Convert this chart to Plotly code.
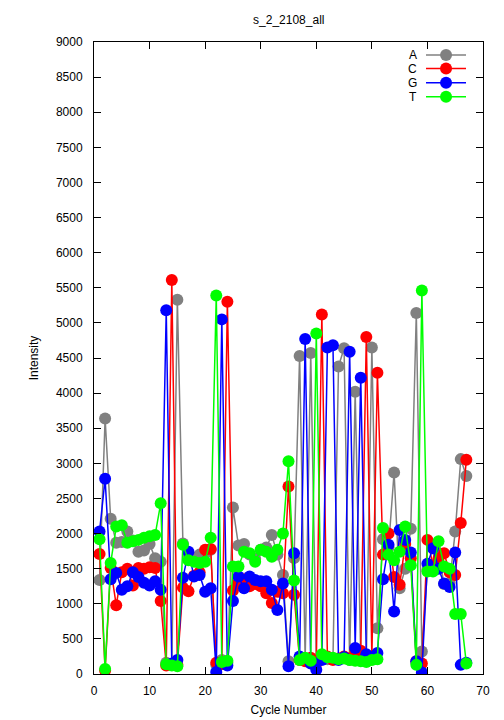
import plotly.graph_objects as go

cycles = list(range(1, 68))

series_names = ["A", "C", "G", "T"]
series_colors = ["#808080", "#ff0000", "#0000ff", "#00ff00"]

A = [1340, 3640, 2210, 1870, 1880, 2030, 1900, 1740, 1760, 1850,
     1650, 1600, 160, 130, 5330, 1860, 1700, 1650, 1700, 1720,
     1770, 130, 200, 160, 2370, 1830, 1850, 1700, 1640, 1770,
     1800, 1980, 1700, 1410, 180, 1650, 4530, 200, 4570, 180,
     230, 210, 220, 4380, 4640, 200, 4020, 250, 200, 4650,
     650, 1920, 1800, 2870, 1220, 1500, 2070, 5140, 320, 1480,
     1500, 1720, 1280, 1300, 2030, 3060, 2820]

C = [1710, 50, 1510, 980, 1450, 1500, 1260, 1510, 1500, 1520,
     1510, 1040, 120, 5610, 130, 1230, 1180, 1400, 1450, 1770,
     1780, 160, 140, 5300, 1190, 1300, 1350, 1250, 1280, 1250,
     1150, 1010, 1170, 1150, 2670, 1130, 200, 180, 230, 150,
     5120, 250, 200, 220, 250, 220, 340, 330, 4800, 250,
     4290, 1700, 2000, 1380, 1270, 1850, 1650, 180, 150, 1910,
     1550, 1650, 1720, 1450, 1410, 2150, 3050]

G = [2030, 2780, 1350, 1440, 1200, 1250, 1450, 1380, 1300, 1260,
     1320, 1200, 5180, 150, 200, 1370, 1740, 1390, 1410, 1170,
     1220, 30, 5050, 120, 1040, 1390, 1220, 1390, 1340, 1320,
     1320, 1200, 910, 1290, 110, 1720, 250, 4770, 150, 60,
     200, 4650, 4680, 200, 240, 4590, 370, 4220, 280, 240,
     300, 1350, 1840, 890, 2050, 1910, 1730, 180, 20, 1570,
     1790, 1500, 1290, 1240, 1730, 130, 160]

T = [1920, 70, 1580, 2100, 2120, 1870, 1890, 1910, 1940, 1960,
     1980, 2430, 140, 120, 110, 1840, 1620, 1600, 1580, 1600,
     1940, 5390, 170, 190, 1530, 1530, 1740, 1720, 1600, 1770,
     1740, 1670, 1770, 2000, 3030, 1330, 200, 230, 190, 4850,
     280, 240, 230, 210, 220, 200, 190, 180, 170, 200,
     210, 2080, 1700, 1620, 1740, 2100, 1550, 130, 5460, 1460,
     1460, 1890, 1530, 1500, 855, 855, 150]

x_ticks = list(range(0, 71, 10))
y_ticks = list(range(0, 9001, 500))

FONT = "Liberation Sans, Arial, Helvetica, sans-serif"

fig = go.Figure()
for name, color, vals in zip(series_names, series_colors, [A, C, G, T]):
    fig.add_trace(go.Scatter(
        x=cycles, y=vals, name=name, mode="lines+markers",
        line=dict(color=color, width=1.5),
        marker=dict(color=color, size=12, symbol="circle"),
        showlegend=False,
    ))

# gnuplot-style key: label on the left, line+point sample on the right
key_rows = [0.9794, 0.958, 0.9356, 0.9134]
for name, color, yy in zip(series_names, series_colors, key_rows):
    fig.add_annotation(x=0.834, y=yy, xref="paper", yref="paper", text=name,
                       showarrow=False, xanchor="right", yanchor="middle",
                       font=dict(family=FONT, size=12, color="black"),
                       borderpad=0)
    fig.add_shape(type="line", xref="paper", yref="paper",
                  x0=0.8535, x1=0.9563, y0=yy, y1=yy,
                  line=dict(color=color, width=1.5))
    fig.add_shape(type="circle", xref="paper", yref="paper",
                  xsizemode="pixel", ysizemode="pixel",
                  xanchor=0.905, yanchor=yy, x0=-6, x1=6, y0=-6, y1=6,
                  fillcolor=color, line=dict(color=color, width=0))

axis_common = dict(
    showline=True, linecolor="black", linewidth=1, mirror="ticks",
    ticks="inside", ticklen=7, tickcolor="black", tickwidth=1,
    showgrid=False, zeroline=False, automargin=False,
    tickfont=dict(family=FONT, size=12, color="black"),
)

fig.update_layout(
    width=504, height=720,
    margin=dict(l=94, r=21, t=42, b=46),
    paper_bgcolor="white", plot_bgcolor="white",
    title=dict(text="s_2_2108_all", x=0.573, xanchor="center", y=0.972,
               yanchor="middle", font=dict(family=FONT, size=12, color="black")),
    xaxis=dict(range=[0, 70], tickvals=x_ticks, title=dict(text="Cycle Number",
               font=dict(family=FONT, size=12, color="black"), standoff=8),
               ticklabelstandoff=6, **axis_common),
    yaxis=dict(range=[0, 9000], tickvals=y_ticks, title=dict(text="Intensity",
               font=dict(family=FONT, size=12, color="black"), standoff=14),
               ticklabelstandoff=8, **axis_common),
    font=dict(family=FONT, size=12, color="black"),
)

fig.write_html("out.html", config={"displayModeBar": False},
               post_script="document.body.style.margin='0';document.body.style.padding='0';")
